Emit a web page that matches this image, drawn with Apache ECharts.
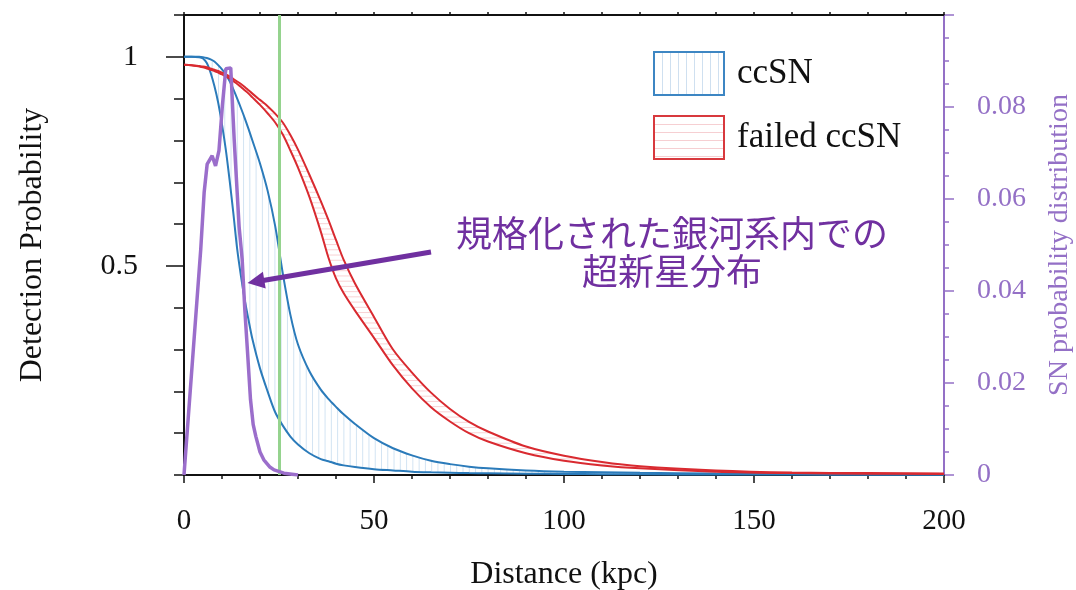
<!DOCTYPE html>
<html>
<head>
<meta charset="utf-8">
<script src="https://cdn.jsdelivr.net/npm/echarts@6/dist/echarts.min.js"></script>
<style>
  html, body { margin: 0; padding: 0; background: #fff; }
  #chart { width: 1076px; height: 590px; }
</style>
</head>
<body>
<div id="chart"></div>
<script>
// Distance grid (kpc) shared by the detection-probability curves
const dist = [0, 2, 4, 5, 6, 7, 8, 9, 10, 11, 12, 13, 14, 15, 16, 17, 18, 20, 22, 24, 26, 28, 30, 33, 36, 38, 40, 42, 45, 50, 55, 60, 65, 70, 75, 80, 90, 100, 110, 120, 140, 160, 180, 200];

// ccSN detection probability band (lower / upper edge)
const ccsnLow = [1.0, 1.0, 0.999, 0.996, 0.985, 0.962, 0.930, 0.890, 0.838, 0.778, 0.705, 0.625, 0.540, 0.475, 0.418, 0.370, 0.325, 0.255, 0.200, 0.150, 0.118, 0.092, 0.073, 0.052, 0.038, 0.033, 0.027, 0.023, 0.019, 0.014, 0.011, 0.008, 0.0065, 0.0055, 0.0045, 0.004, 0.003, 0.0025, 0.002, 0.0017, 0.0013, 0.001, 0.0008, 0.0006];
const ccsnHigh = [1.0, 1.0, 1.0, 0.999, 0.997, 0.994, 0.989, 0.980, 0.970, 0.958, 0.942, 0.922, 0.900, 0.877, 0.853, 0.827, 0.800, 0.745, 0.680, 0.595, 0.482, 0.383, 0.312, 0.248, 0.204, 0.182, 0.163, 0.145, 0.122, 0.088, 0.064, 0.047, 0.034, 0.026, 0.020, 0.016, 0.011, 0.008, 0.0065, 0.0052, 0.0035, 0.0025, 0.0018, 0.0013];

// failed ccSN detection probability band (lower / upper edge)
const failedLow = [0.981, 0.980, 0.977, 0.975, 0.972, 0.969, 0.966, 0.962, 0.958, 0.953, 0.948, 0.942, 0.935, 0.928, 0.920, 0.912, 0.903, 0.885, 0.865, 0.843, 0.814, 0.776, 0.735, 0.665, 0.582, 0.520, 0.470, 0.435, 0.393, 0.328, 0.262, 0.207, 0.162, 0.128, 0.100, 0.080, 0.052, 0.034, 0.023, 0.016, 0.008, 0.0045, 0.003, 0.0025];
const failedHigh = [0.981, 0.980, 0.978, 0.977, 0.975, 0.972, 0.969, 0.966, 0.962, 0.958, 0.953, 0.947, 0.941, 0.935, 0.928, 0.920, 0.912, 0.897, 0.882, 0.864, 0.843, 0.813, 0.778, 0.718, 0.655, 0.610, 0.562, 0.515, 0.458, 0.378, 0.300, 0.245, 0.197, 0.158, 0.127, 0.104, 0.068, 0.046, 0.031, 0.021, 0.011, 0.006, 0.0045, 0.0035];

// Galactic supernova distance distribution (right axis)
const snDist = [0, 4.4, 5.3, 6.1, 7.4, 8.3, 9.2, 10.1, 11, 12.3, 13.2, 14.5, 15.3, 16, 16.7, 17.5, 18.2, 18.9, 20, 21, 22.5, 23.7, 26.3, 30];
const snProb = [0, 0.049, 0.0614, 0.0676, 0.0694, 0.0672, 0.0705, 0.0803, 0.0883, 0.0885, 0.073, 0.054, 0.047, 0.036, 0.027, 0.0164, 0.011, 0.0084, 0.005, 0.0033, 0.0018, 0.0011, 0.0004, 0];

// Galactic edge marker (kpc)
const galaxyEdge = 25;

// Left axis labelled values
const leftLabels = [0.5, 1];

const BLUE = '#2b7bba';
const RED = '#d92a30';
const SN_PURPLE = '#9b6ecb';
const AXIS_PURPLE = '#9470c6';
const NOTE_PURPLE = '#7030a0';
const SERIF = '"Liberation Serif", "Times New Roman", serif';

function pairs(xs, ys) { return xs.map((x, i) => [x, ys[i]]); }

// linear lookup along a curve, and its inverse for a decreasing curve
function valueAt(xs, ys, x) {
  for (let i = 0; i < xs.length - 1; i++) {
    if (x >= xs[i] && x <= xs[i + 1]) {
      const t = (x - xs[i]) / (xs[i + 1] - xs[i]);
      return ys[i] + t * (ys[i + 1] - ys[i]);
    }
  }
  return ys[ys.length - 1];
}
function distanceAt(xs, ys, p) {
  for (let i = 0; i < xs.length - 1; i++) {
    const a = ys[i], b = ys[i + 1];
    if (a >= p && p >= b && a !== b) return xs[i] + (a - p) / (a - b) * (xs[i + 1] - xs[i]);
  }
  return null;
}

// legend swatch hatch
function hatch(w, h, color, vertical) {
  const c = document.createElement('canvas');
  c.width = w; c.height = h;
  const g = c.getContext('2d');
  g.fillStyle = '#ffffff';
  g.fillRect(0, 0, w, h);
  g.fillStyle = color;
  if (vertical) g.fillRect(0, 0, 1, h); else g.fillRect(0, 0, w, 1);
  return { image: c, repeat: 'repeat' };
}

// band between two curves, hatched with vertical strokes
function verticalHatch(lo, hi, color, step) {
  return function (params, api) {
    if (params.dataIndex !== 0) return;
    const children = [];
    for (let x = step / 2; x <= 200; x += step) {
      const a = valueAt(dist, lo, x), b = valueAt(dist, hi, x);
      if (b - a < 0.002) continue;
      const p1 = api.coord([x, a]), p2 = api.coord([x, b]);
      children.push({ type: 'line', shape: { x1: p1[0], y1: p1[1], x2: p2[0], y2: p2[1] },
        style: { stroke: color, lineWidth: 1 } });
    }
    return { type: 'group', children };
  };
}

// band between two curves, hatched with horizontal strokes
function horizontalHatch(lo, hi, color, step) {
  return function (params, api) {
    if (params.dataIndex !== 0) return;
    const children = [];
    for (let p = 0.976; p > 0.002; p -= step) {
      const xa = distanceAt(dist, lo, p), xb = distanceAt(dist, hi, p);
      if (xa === null || xb === null) continue;
      const p1 = api.coord([xa, p]), p2 = api.coord([xb, p]);
      children.push({ type: 'line', shape: { x1: p1[0], y1: p1[1], x2: p2[0], y2: p2[1] },
        style: { stroke: color, lineWidth: 1 } });
    }
    return { type: 'group', children };
  };
}

const chart = echarts.init(document.getElementById('chart'), null, { renderer: 'canvas' });

const curve = (name, data, color) => ({
  name, type: 'line', data, smooth: 0.3, showSymbol: false, symbol: 'none',
  color, lineStyle: { color, width: 2 }, z: 3, silent: true
});

const option = {
  animation: false,
  textStyle: { fontFamily: SERIF },
  grid: { left: 184, right: 132, top: 15, bottom: 115, containLabel: false, outerBoundsMode: 'none' },
  legend: {
    orient: 'vertical', left: 653, top: 51, padding: 0,
    itemWidth: 70, itemHeight: 43, itemGap: 19,
    selectedMode: false,
    textStyle: { fontSize: 35, fontFamily: SERIF, color: '#111', padding: [0, 0, 0, 8] },
    data: [
      { name: 'ccSN', icon: 'rect', itemStyle: { color: hatch(8, 8, '#cfe0f0', true), borderColor: '#3d86c3', borderWidth: 2 } },
      { name: 'failed ccSN', icon: 'rect', itemStyle: { color: hatch(8, 8, '#f6cfd2', false), borderColor: '#d8393e', borderWidth: 2 } }
    ]
  },
  xAxis: [
    {
      type: 'value', position: 'bottom', min: 0, max: 200, interval: 50,
      name: 'Distance (kpc)', nameLocation: 'middle', nameGap: 84,
      nameTextStyle: { fontSize: 32, fontFamily: SERIF, color: '#111' },
      axisLine: { show: true, onZero: false, lineStyle: { color: '#111', width: 2 } },
      axisTick: { show: true, length: 8, lineStyle: { color: '#111', width: 1.5 } },
      minorTick: { show: true, splitNumber: 5, length: 4, lineStyle: { color: '#111', width: 1.5 } },
      axisLabel: { fontSize: 29, fontFamily: SERIF, color: '#111', margin: 32 },
      splitLine: { show: false }
    },
    {
      type: 'value', position: 'top', min: 0, max: 200, interval: 10,
      axisLine: { show: true, onZero: false, lineStyle: { color: '#111', width: 2 } },
      axisTick: { show: true, length: 3, lineStyle: { color: '#111', width: 1.5 } },
      axisLabel: { show: false },
      splitLine: { show: false }
    }
  ],
  yAxis: [
    {
      type: 'value', position: 'left', min: 0, max: 1.1, interval: 0.1,
      name: 'Detection Probability', nameLocation: 'middle', nameRotate: 90, nameGap: 135,
      nameTextStyle: { fontSize: 32, fontFamily: SERIF, color: '#111' },
      axisLine: { show: true, onZero: false, lineStyle: { color: '#111', width: 2 } },
      axisTick: { show: true, length: 10, lineStyle: { color: '#111', width: 1.5 } },
      axisLabel: { show: false },
      splitLine: { show: false }
    },
    {
      type: 'value', position: 'left', min: 0, max: 1.1, interval: 0.5,
      axisLine: { show: false },
      axisTick: { show: true, length: 18, customValues: leftLabels, lineStyle: { color: '#111', width: 1.5 } },
      axisLabel: { fontSize: 30, fontFamily: SERIF, color: '#111', margin: 46, customValues: leftLabels },
      splitLine: { show: false }
    },
    {
      type: 'value', position: 'right', min: 0, max: 0.1, interval: 0.02,
      name: 'SN probability distribution', nameLocation: 'middle', nameRotate: 90, nameGap: 102,
      nameTextStyle: { fontSize: 28, fontFamily: SERIF, color: AXIS_PURPLE },
      axisLine: { show: true, onZero: false, lineStyle: { color: AXIS_PURPLE, width: 2 } },
      axisTick: { show: true, length: 10, lineStyle: { color: AXIS_PURPLE, width: 1.5 } },
      minorTick: { show: true, splitNumber: 4, length: 5, lineStyle: { color: AXIS_PURPLE, width: 1.5 } },
      axisLabel: { fontSize: 28, fontFamily: SERIF, color: AXIS_PURPLE, margin: 33, showMaxLabel: false },
      splitLine: { show: false }
    }
  ],
  series: [
    {
      name: 'ccSN', type: 'custom', coordinateSystem: 'cartesian2d', data: [0], z: 1, silent: true, clip: true,
      color: BLUE, renderItem: verticalHatch(ccsnLow, ccsnHigh, '#d3e4f3', 1.65)
    },
    {
      name: 'failed ccSN', type: 'custom', coordinateSystem: 'cartesian2d', data: [0], z: 1, silent: true, clip: true,
      color: RED, renderItem: horizontalHatch(failedLow, failedHigh, '#f8d3d5', 0.0125)
    },
    curve('ccSN low', pairs(dist, ccsnLow), BLUE),
    curve('ccSN high', pairs(dist, ccsnHigh), BLUE),
    curve('failed ccSN low', pairs(dist, failedLow), RED),
    curve('failed ccSN high', pairs(dist, failedHigh), RED),
    {
      name: 'edge', type: 'line', data: [], z: 2, silent: true,
      markLine: {
        silent: true, symbol: ['none', 'none'], animation: false,
        label: { show: false },
        lineStyle: { color: '#95d38e', width: 3, type: 'solid' },
        data: [{ xAxis: galaxyEdge }]
      }
    },
    {
      name: 'SN distribution', type: 'line', yAxisIndex: 2, data: pairs(snDist, snProb),
      showSymbol: false, symbol: 'none', smooth: false, z: 5, silent: true,
      color: SN_PURPLE, lineStyle: { color: SN_PURPLE, width: 3.5 }
    }
  ],
  graphic: [
    {
      type: 'line', z: 100, silent: true,
      shape: { x1: 431, y1: 252, x2: 263, y2: 280.5 },
      style: { stroke: NOTE_PURPLE, lineWidth: 5 }
    },
    {
      type: 'polygon', z: 100, silent: true,
      shape: { points: [[247.5, 283], [262.9, 271.8], [265.7, 288.6]] },
      style: { fill: NOTE_PURPLE }
    },
    {
      type: 'text', z: 100, silent: true, x: 672, y: 252,
      style: {
        text: '規格化された銀河系内での\n超新星分布',
        font: '36px "Noto Sans CJK JP"', fill: NOTE_PURPLE,
        align: 'center', verticalAlign: 'middle', lineHeight: 38
      }
    }
  ]
};

chart.setOption(option);
</script>
</body>
</html>
